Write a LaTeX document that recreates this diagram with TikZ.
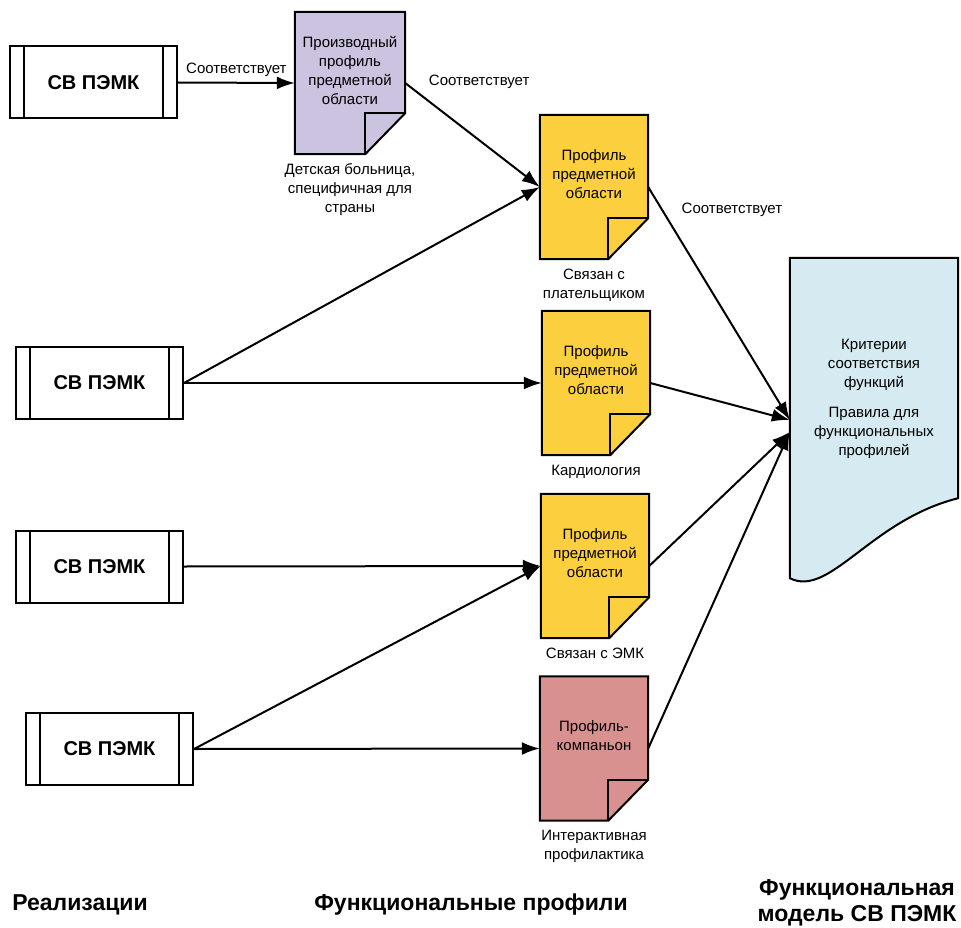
\documentclass[tikz,border=0pt]{standalone}
\usepackage{fontspec}
\setmainfont{Liberation Sans}
\usetikzlibrary{arrows.meta,backgrounds}

\definecolor{derivpurple}{HTML}{CBC3DF}
\definecolor{domyellow}{HTML}{FCCF3E}
\definecolor{comprose}{HTML}{D8918F}
\definecolor{modelblue}{HTML}{D5EBF1}

\begin{document}
\begin{tikzpicture}[x=1pt, y=-1pt,
  impl/.style={draw, line width=2pt, minimum width=167pt, minimum height=72pt,
    inner sep=0pt, font=\fontsize{20}{24}\selectfont\bfseries},
  doc/.style={minimum width=108pt, minimum height=144pt, inner sep=0pt, align=center,
    text depth=25pt, font=\fontsize{15}{19}\selectfont},
  note/.style={align=center, font=\fontsize{15}{19}\selectfont},
  caption/.style={note, text depth=, label distance=6pt},
  title/.style={align=center, font=\fontsize{23}{26}\selectfont\bfseries},
  outline/.style={line width=2pt, line join=miter},
  link/.style={line width=2pt, -{Latex[length=18pt, width=13pt]}}
]
  \useasboundingbox (0,0) rectangle (961,928);

  % implementations
  \node[impl] (r1) at (93.5,82.5) {СВ ПЭМК};
  \node[impl] (r2) at (99.5,383) {СВ ПЭМК};
  \node[impl] (r3) at (99.5,566.5) {СВ ПЭМК};
  \node[impl] (r4) at (109.5,749) {СВ ПЭМК};
  \foreach \b in {r1,r2,r3,r4}
    \draw[line width=2pt] ([xshift=15pt]\b.north west) -- ([xshift=15pt]\b.south west)
      ([xshift=-15pt]\b.north east) -- ([xshift=-15pt]\b.south east);

  % functional profiles
  \node[doc, minimum width=110pt, minimum height=142pt] (pd) at (350,83)
    [label={[caption]below:Детская больница,\\специфичная для\\страны}]
    {Производный\\профиль\\предметной\\области};
  \node[doc] (p1) at (594,187) [label={[caption]below:Связан с\\плательщиком}]
    {Профиль\\предметной\\области};
  \node[doc] (p2) at (596,383) [label={[caption]below:Кардиология}]
    {Профиль\\предметной\\области};
  \node[doc] (p3) at (595,566) [label={[caption]below:Связан с ЭМК}]
    {Профиль\\предметной\\области};
  \node[doc] (pc) at (594,748.5) [label={[caption]below:Интерактивная\\профилактика}]
    {Профиль-\\компаньон};

  % functional model
  \node[note, minimum width=168pt, minimum height=320pt, inner sep=0pt, text depth=41pt]
    (model) at (874,418)
    {Критерии\\соответствия\\функций\\[11pt]Правила для\\функциональных\\профилей};

  \begin{scope}[on background layer]
    \foreach \nm/\col in {pd/derivpurple, p1/domyellow, p2/domyellow, p3/domyellow, pc/comprose} {
      \draw[outline, fill=\col] (\nm.north west) -- (\nm.north east)
        -- ([yshift=41pt]\nm.south east) -- ([xshift=-40pt]\nm.south east)
        -- (\nm.south west) -- cycle;
      \draw[outline] ([xshift=-40pt]\nm.south east) |- ([yshift=41pt]\nm.south east);
    }
    \draw[outline, fill=modelblue] (model.north west) -- (model.north east)
      -- ([yshift=80pt]model.south east)
      .. controls +(-88,22) and +(40,20) .. (model.south west) -- cycle;
  \end{scope}

  % connectors
  \draw[link] (r1.east) -- node[above, note, yshift=2pt] {Соответствует} (pd.west);
  \draw[link] (pd.east) -- node[pos=0.1, above right, xshift=6pt, note] {Соответствует} (p1.west);
  \draw[link] (r2.east) -- (p1.west);
  \draw[link] (r2.east) -- (p2.west);
  \draw[link] (r3.east) -- (p3.west);
  \draw[link] (r4.east) -- (p3.west);
  \draw[link] (r4.east) -- (pc.west);
  \draw[link] (p1.east) -- node[pos=0.1, right=15pt, note] {Соответствует} ([yshift=-2pt]model.west);
  \draw[link] (p2.east) -- ([yshift=-2pt]model.west);
  \draw[link] (p3.east) -- ([yshift=-14pt]model.west);
  \draw[link] (pc.east) -- ([yshift=-14pt]model.west);

  % column titles
  \node[title] (tr) at (80,905) {Реализации};
  \node[title] (tf) at (471,905) {Функциональные профили};
  \node[title] (tm) at (857,903) {Функциональная\\модель СВ ПЭМК};
\end{tikzpicture}
\end{document}
